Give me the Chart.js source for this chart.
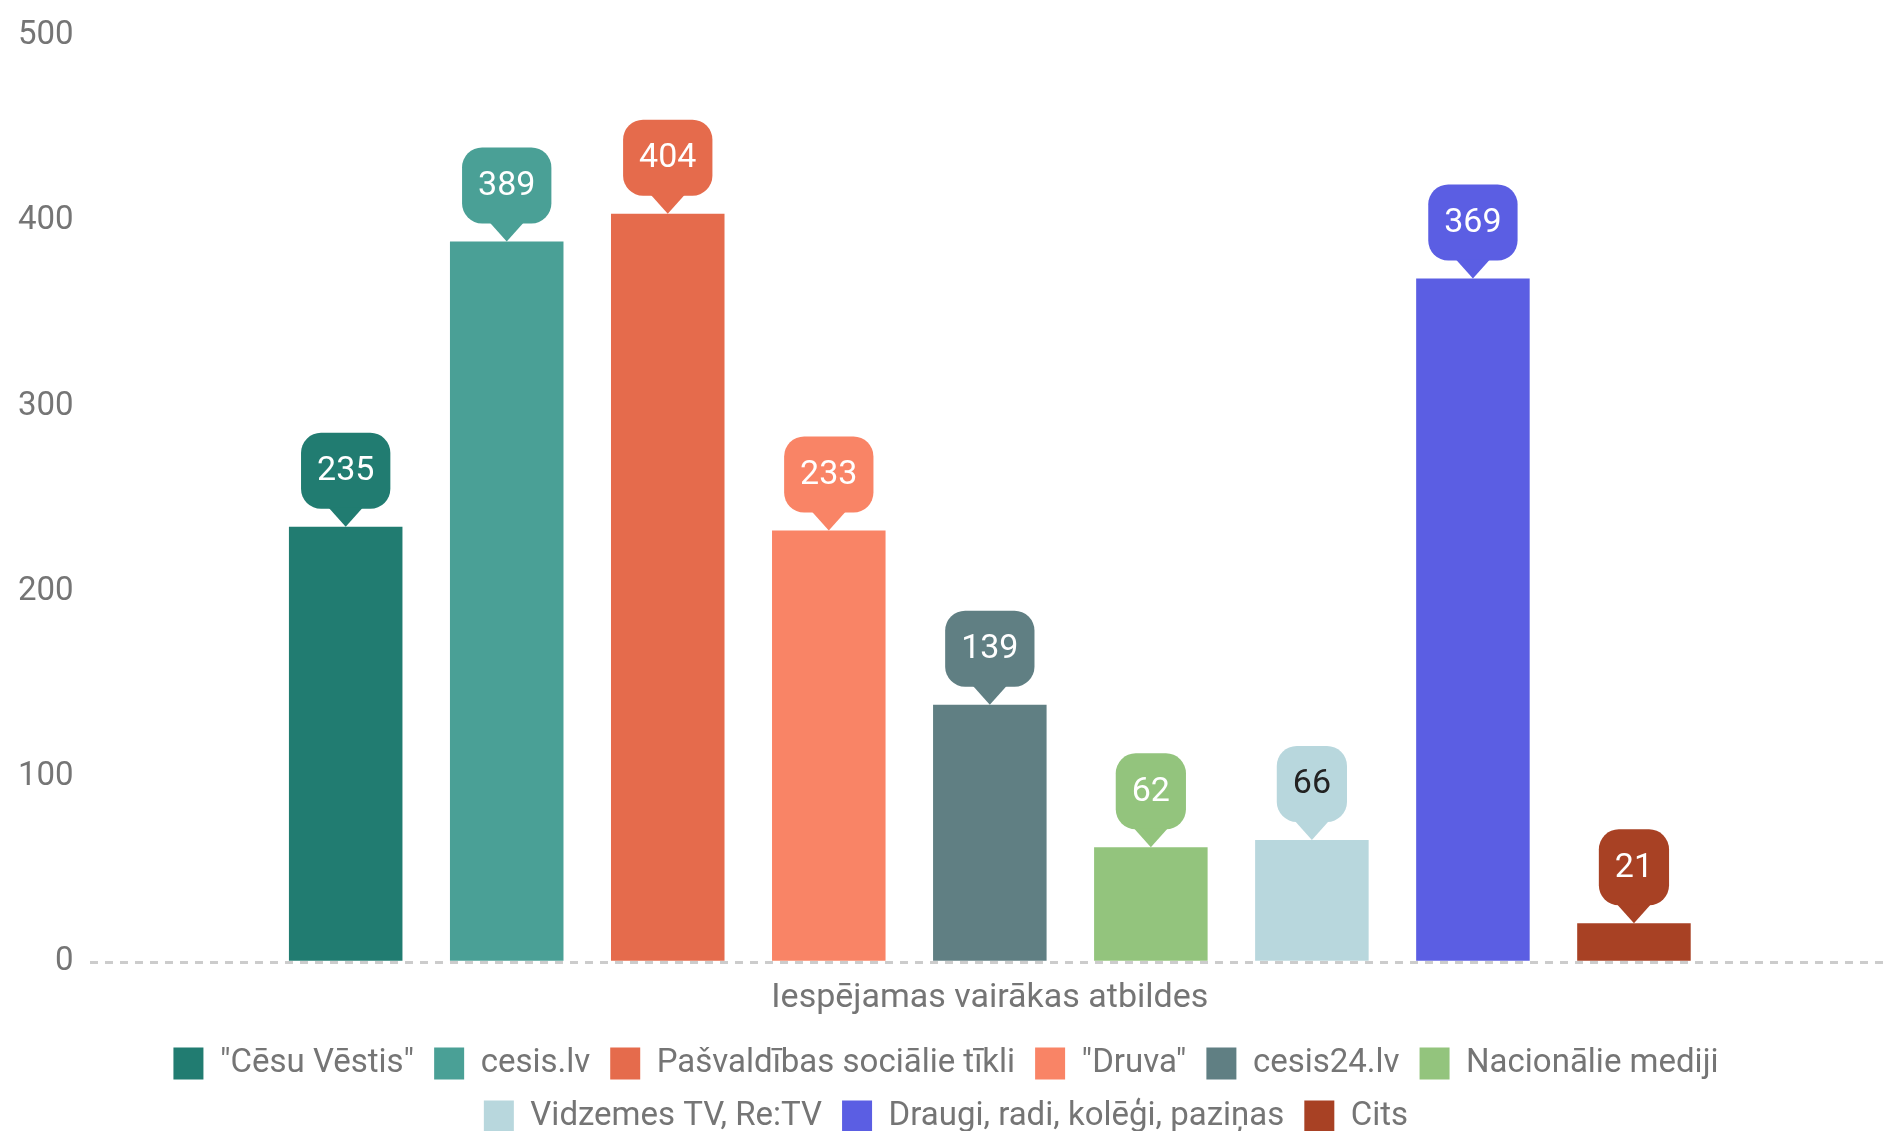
<!DOCTYPE html>
<html>
<head>
<meta charset="utf-8">
<script src="https://cdn.jsdelivr.net/npm/chart.js"></script>
<style>
  html, body { margin: 0; padding: 0; background: #fff; }
  #wrap { width: 1894px; height: 1131px; }
</style>
</head>
<body>
<div id="wrap"><canvas id="myChart"></canvas></div>
<script>
let categories = ['Iespējamas vairākas atbildes'];
let sources = ['"Cēsu Vēstis"', 'cesis.lv', 'Pašvaldības sociālie tīkli', '"Druva"', 'cesis24.lv', 'Nacionālie mediji', 'Vidzemes TV, Re:TV', 'Draugi, radi, kolēģi, paziņas', 'Cits'];
let answers = [235, 389, 404, 233, 139, 62, 66, 369, 21];
let colors = ['#217c71', '#4aa096', '#e56b4c', '#f98466', '#607f83', '#93c47d', '#b8d7dd', '#5b5ee3', '#a84124'];
let labelTextColors = ['#fff', '#fff', '#fff', '#fff', '#fff', '#fff', '#222', '#fff', '#fff'];

let fontFamily = "'Liberation Sans Narrow', 'Arial Narrow', Roboto, sans-serif";
let grey = '#757575';

// speech-bubble labels above each bar
const callouts = {
  id: 'callouts',
  afterDatasetsDraw(chart) {
    const ctx = chart.ctx;
    chart.data.datasets.forEach((ds, i) => {
      const meta = chart.getDatasetMeta(i);
      meta.data.forEach((bar, j) => {
        const text = String(ds.data[j]);
        ctx.save();
        ctx.font = '34px ' + fontFamily;
        const w = ctx.measureText(text).width + 32;
        const h = 76, tip = 18, r = 20;
        const x = bar.x, bottom = bar.y - tip, top = bottom - h;
        ctx.fillStyle = colors[i];
        ctx.beginPath();
        ctx.roundRect(x - w / 2, top, w, h, r);
        ctx.fill();
        ctx.beginPath();
        ctx.moveTo(x - 17, bottom - 1);
        ctx.lineTo(x + 17, bottom - 1);
        ctx.lineTo(x, bar.y);
        ctx.closePath();
        ctx.fill();
        ctx.fillStyle = labelTextColors[i];
        ctx.textAlign = 'center';
        ctx.textBaseline = 'middle';
        ctx.fillText(text, x, top + h / 2 + 1);
        ctx.restore();
      });
    });
  }
};

let ctx = document.getElementById('myChart').getContext('2d');

let chart = new Chart(ctx, {
  type: 'bar',
  data: {
    labels: categories,
    datasets: sources.map((s, i) => ({
      label: s,
      data: [answers[i]],
      backgroundColor: colors[i],
      borderWidth: 0
    }))
  },
  options: {
    responsive: true,
    maintainAspectRatio: false,
    animation: false,
    categoryPercentage: 0.805,
    barPercentage: 0.705,
    layout: { padding: { left: 2, right: 4, top: 14, bottom: -12 } },
    plugins: {
      tooltip: { enabled: false },
      legend: {
        position: 'bottom',
        labels: {
          color: grey,
          font: { family: fontFamily, size: 33 },
          boxWidth: 30,
          boxHeight: 32,
          padding: 20
        }
      }
    },
    scales: {
      x: {
        grid: { display: false },
        border: { display: false },
        ticks: { color: grey, font: { family: fontFamily, size: 34 }, padding: 8 }
      },
      y: {
        min: 0,
        max: 500,
        grid: {
          drawTicks: false,
          lineWidth: 3,
          color: c => c.tick && c.tick.value === 0 ? '#cccccc' : 'rgba(0,0,0,0)'
        },
        border: { display: false, dash: [8, 7] },
        ticks: { stepSize: 100, color: grey, font: { family: fontFamily, size: 33 }, padding: 16 }
      }
    }
  },
  plugins: [callouts]
});
</script>
</body>
</html>
